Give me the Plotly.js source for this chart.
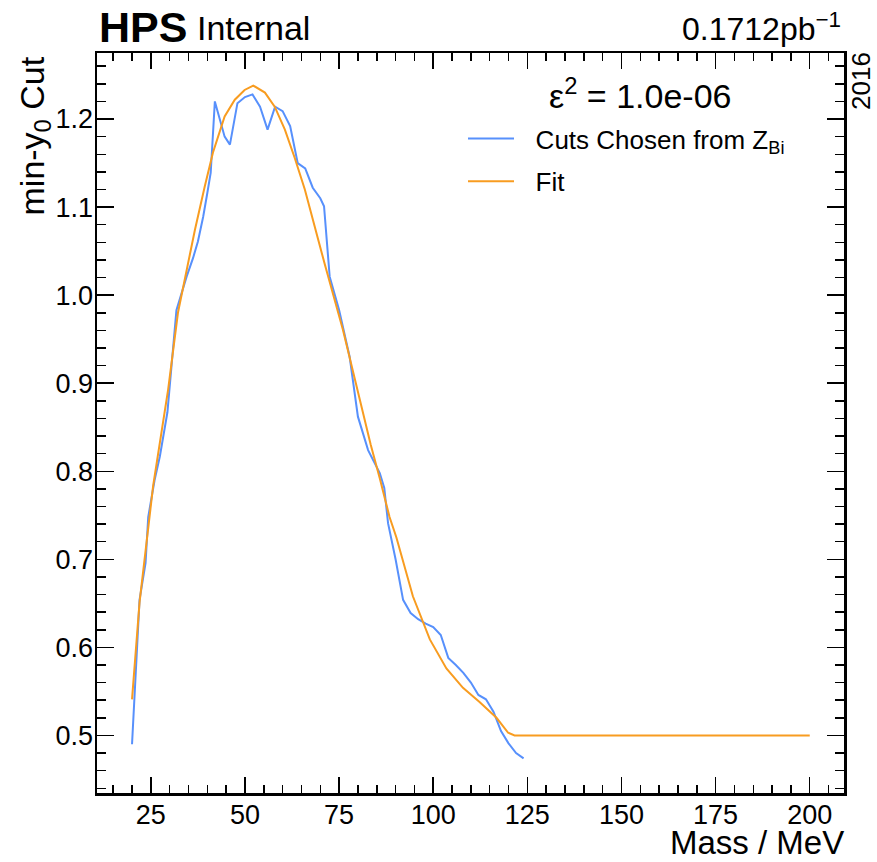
<!DOCTYPE html>
<html>
<head>
<meta charset="utf-8">
<script src="https://cdn.plot.ly/plotly-3.0.1.min.js"></script>
<style>html,body{margin:0;padding:0;background:#fff;}#chart{width:877px;height:862px;}</style>
</head>
<body>
<div id="chart"></div>
<script>
// Cuts chosen from Z_Bi (blue)
const cutMass = [20, 22, 23.6, 24.3, 26, 27.4, 29.4, 31.8, 34.5, 36.2, 37.5, 38.9, 40.0, 40.9, 42, 44.6, 46, 48, 50, 52, 54, 56, 58, 60, 62, 64, 66, 68, 70, 71, 72.5, 75, 77.8, 78.7, 80, 82.7, 85.8, 87, 88, 90, 92, 94, 96, 98, 100, 102, 104, 106, 108, 110, 112, 114, 116, 118, 120, 122, 124];
const cutValue = [0.490, 0.654, 0.696, 0.748, 0.790, 0.817, 0.867, 0.983, 1.021, 1.042, 1.061, 1.089, 1.116, 1.139, 1.220, 1.180, 1.171, 1.218, 1.225, 1.228, 1.214, 1.188, 1.214, 1.209, 1.192, 1.150, 1.144, 1.122, 1.110, 1.101, 1.021, 0.983, 0.930, 0.900, 0.862, 0.824, 0.798, 0.781, 0.741, 0.700, 0.654, 0.639, 0.632, 0.627, 0.623, 0.614, 0.588, 0.580, 0.571, 0.560, 0.546, 0.541, 0.527, 0.505, 0.491, 0.480, 0.474];

// Fit (orange)
const fitMass = [20, 22, 25.6, 29.6, 32.2, 36.7, 39.3, 41.5, 44.6, 47.3, 49.9, 52.2, 55.3, 57.9, 60.6, 63.2, 65.9, 68.5, 71.2, 76.0, 79.6, 83.4, 85.8, 88.4, 90.2, 94.6, 99.1, 103.5, 107.9, 112.3, 116.8, 119.9, 121.6, 200];
const fitValue = [0.541, 0.651, 0.783, 0.893, 0.980, 1.074, 1.123, 1.162, 1.203, 1.222, 1.233, 1.238, 1.230, 1.214, 1.188, 1.156, 1.120, 1.078, 1.035, 0.961, 0.898, 0.830, 0.792, 0.748, 0.725, 0.658, 0.609, 0.576, 0.554, 0.538, 0.520, 0.503, 0.500, 0.500];

const seriesNames = ["Cuts Chosen from Z<sub>Bi</sub>", "Fit"];
const seriesColors = ["#5790fc", "#f89c20"];

const FONT = "Liberation Sans, Arial, Helvetica, sans-serif";
const GAP = "\u00a0\u00a0\u200a";

const traces = [
  {x: cutMass, y: cutValue, type: "scatter", mode: "lines", name: GAP + seriesNames[0],
   line: {color: seriesColors[0], width: 2}, legendgroup: "a"},
  {x: fitMass, y: fitValue, type: "scatter", mode: "lines", name: GAP + seriesNames[1],
   line: {color: seriesColors[1], width: 2}, legendgroup: "b"}
];

const L = 97, R = 844, T = 53, B = 793;
const W = R - L, H = B - T;
const px = v => (v - L) / W;
const py = v => (B - v) / H;

const axisCommon = {
  showgrid: false, zeroline: false, showline: true, linecolor: "#000", linewidth: 2.5,
  mirror: "allticks", ticks: "inside", tickcolor: "#000", tickwidth: 1.5,
  tickfont: {family: FONT, size: 27, color: "#000"}, ticklabelstandoff: -4
};

const layout = {
  width: 877, height: 862,
  margin: {l: L, r: 877 - R, t: T, b: 862 - B, pad: 0},
  paper_bgcolor: "#fff", plot_bgcolor: "#fff",
  font: {family: FONT, color: "#000"},
  showlegend: true,
  legend: {x: px(463), y: py(115), xanchor: "left", yanchor: "top",
           font: {family: FONT, size: 26, color: "#000"}, bgcolor: "rgba(0,0,0,0)",
           itemwidth: 46, tracegroupgap: 6},
  xaxis: Object.assign({}, axisCommon, {
    range: [10.7, 209.1], tick0: 0, dtick: 25, ticklen: 16,
    minor: {ticks: "inside", dtick: 5, ticklen: 8, tickcolor: "#000", tickwidth: 1.5}
  }),
  yaxis: Object.assign({}, axisCommon, {
    range: [0.4346, 1.275], tick0: 0, dtick: 0.1, ticklen: 17, tickformat: ".1f",
    minor: {ticks: "inside", dtick: 0.02, ticklen: 9, tickcolor: "#000", tickwidth: 1.5}
  }),
  annotations: [
    {text: "<b>HPS</b>", xref: "paper", yref: "paper", x: px(97), y: py(27), xanchor: "left", yanchor: "middle",
     showarrow: false, font: {family: FONT, size: 43, color: "#000"}},
    {text: "Internal", xref: "paper", yref: "paper", x: px(195), y: py(28.5), xanchor: "left", yanchor: "middle",
     showarrow: false, font: {family: FONT, size: 34, color: "#000"}},
    {text: "0.1712pb<sup>\u22121</sup>", xref: "paper", yref: "paper", x: px(843), y: py(27), xanchor: "right", yanchor: "middle",
     showarrow: false, font: {family: FONT, size: 32, color: "#000"}},
    {text: "2016", xref: "paper", yref: "paper", x: px(861), y: py(81), xanchor: "center", yanchor: "middle",
     textangle: -90, borderpad: 0, showarrow: false, font: {family: FONT, size: 26, color: "#000"}},
    {text: "\u03b5<sup>2</sup> = 1.0e-06", xref: "paper", yref: "paper", x: px(547), y: py(93), xanchor: "left", yanchor: "middle",
     showarrow: false, font: {family: FONT, size: 34, color: "#000"}},
    {text: "min-y<sub>0</sub> Cut", xref: "paper", yref: "paper", x: px(34), y: py(55), xanchor: "center", yanchor: "top",
     textangle: -90, showarrow: false, font: {family: FONT, size: 34, color: "#000"}},
    {text: "Mass / MeV", xref: "paper", yref: "paper", x: px(846), y: py(842), xanchor: "right", yanchor: "middle",
     showarrow: false, font: {family: FONT, size: 33, color: "#000"}}
  ]
};

Plotly.newPlot("chart", traces, layout, {displayModeBar: false, staticPlot: true});
</script>
</body>
</html>
